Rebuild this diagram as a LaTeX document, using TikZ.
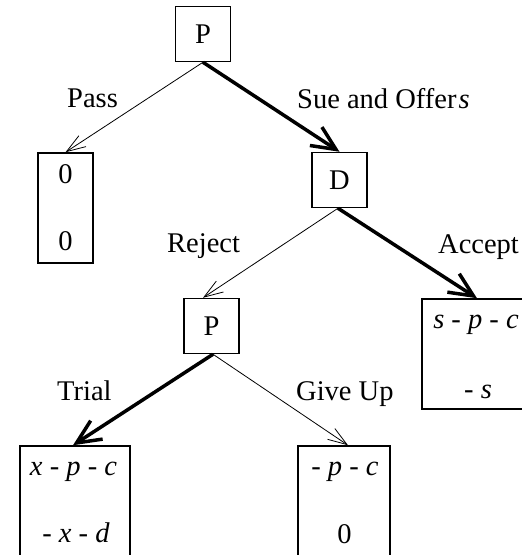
\documentclass[tikz,border=0pt]{standalone}
\usepackage{fontspec}
\setmainfont{Liberation Serif}
\usetikzlibrary{arrows.meta}
\begin{document}
\begin{tikzpicture}[x=1pt,y=-1pt,
  every node/.style={font=\fontsize{28.5}{34}\selectfont, inner sep=0pt},
  dnode/.style={draw, line width=1.5pt, minimum width=55pt, minimum height=55pt},
  term/.style={draw, line width=1.5pt},
  txt/.style={anchor=base},
  lbl/.style={anchor=base west},
  thinarrow/.style={line width=0.8pt, -{Straight Barb[length=19pt,width=13pt,line width=0.8pt]}},
  thickarrow/.style={line width=3.5pt, -{Straight Barb[length=24pt,width=22pt]}},
]
\useasboundingbox (0,0) rectangle (522,555);
% decision nodes
\node[dnode] (p1) at (203,34) {P};
\node[dnode] (d) at (339.5,180) {D};
\node[dnode] (p2) at (211.5,326) {P};
% terminal boxes
\node[term, minimum width=55pt, minimum height=110pt] (pass) at (65.5,208) {};
\node[term, minimum width=110pt, minimum height=110pt] (acc) at (477,354) {};
\node[term, minimum width=110pt, minimum height=110pt] (trial) at (75,501) {};
\node[term, minimum width=92pt, minimum height=110pt] (give) at (344,501) {};
% payoffs
\node[txt] (pass1) at (65.5,183) {0};
\node[txt] (pass2) at (65.5,250) {0};
\node[txt] (acc1) at (476,328) {\textit{s} - \textit{p} - \textit{c}};
\node[txt] (acc2) at (478,398) {- \textit{s}};
\node[txt] (tr1) at (73.5,475) {\textit{x} - \textit{p} - \textit{c}};
\node[txt] (tr2) at (76,542) {- \textit{x} - \textit{d}};
\node[txt] (gu1) at (345,475) {- \textit{p} - \textit{c}};
\node[txt] (gu2) at (344.5,543) {0};
% edge labels
\node[lbl] (lpass) at (67,107) {Pass};
\node[lbl] (lsue) at (297,108) {Sue and Offer\kern2pt\textit{s}};
\node[lbl] (lrej) at (167,252) {Reject};
\node[lbl] (lacc) at (438,253) {Accept};
\node[lbl] (ltri) at (57,400) {Trial};
\node[lbl] (lgive) at (296,400) {Give Up};
% edges
\draw[thickarrow] (p1.south) -- (d.north);
\draw[thinarrow] (p1.south) -- (pass.north);
\draw[thinarrow] ([xshift=-1.5pt]d.south) -- ([xshift=-8.5pt]p2.north);
\draw[thickarrow] ([xshift=-1.5pt]d.south) -- (acc.north);
\draw[thickarrow] ([xshift=1.5pt]p2.south) -- ([xshift=-2pt]trial.north);
\draw[thinarrow] ([xshift=1.5pt]p2.south) -- ([xshift=4pt]give.north);
\end{tikzpicture}
\end{document}
